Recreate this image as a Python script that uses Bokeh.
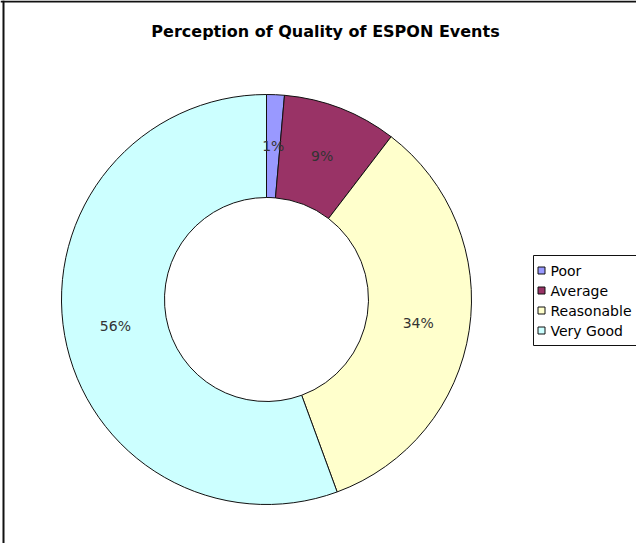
import math
from bokeh.plotting import figure
from bokeh.models import Range1d, Span, ColumnDataSource
from bokeh.core.properties import value
from bokeh.embed import file_html
from bokeh.resources import INLINE

# ---- data ----
title = "Perception of Quality of ESPON Events"
categories = ["Poor", "Average", "Reasonable", "Very Good"]
shares = [1.4, 9.0, 34.0, 55.6]
labels = ["1%", "9%", "34%", "56%"]
colors = ["#9999FF", "#993366", "#FFFFCC", "#CCFFFF"]

# ---- layout (page pixels) ----
W, H = 636, 543
def Y(py):
    return 551 - py

cx, cy = 274, Y(307)
r_in, r_out = 102, 205

p = figure(width=W, height=H, output_backend="svg", toolbar_location=None,
           x_range=Range1d(8, 8 + W), y_range=Range1d(0, H),
           min_border=0, tools="")
p.axis.visible = False
p.grid.visible = False
p.outline_line_color = None
p.background_fill_color = "white"
p.border_fill_color = "white"

total = sum(shares)
cum = [0.0]
for s in shares:
    cum.append(cum[-1] + s / total)
starts = [math.pi / 2 - 2 * math.pi * cum[i + 1] for i in range(len(shares))]
ends = [math.pi / 2 - 2 * math.pi * cum[i] for i in range(len(shares))]
mids = [math.pi / 2 - 2 * math.pi * (cum[i] + cum[i + 1]) / 2 for i in range(len(shares))]
r_mid = (r_in + r_out) / 2

src = ColumnDataSource(dict(cat=categories, start=starts, end=ends, color=colors,
                            lx=[cx + r_mid * math.cos(a) for a in mids],
                            ly=[cy + r_mid * math.sin(a) for a in mids],
                            label=labels))

p.annular_wedge(x=cx, y=cy, inner_radius=r_in, outer_radius=r_out,
                inner_radius_units="screen", outer_radius_units="screen",
                start_angle="start", end_angle="end", fill_color="color",
                line_color="#111111", line_width=1, source=src)

p.text(x="lx", y="ly", text="label", source=src, text_align="center",
       text_baseline="middle", text_font=value("DejaVu Sans"),
       text_font_size="14px", text_color="#333333")

# title
p.text(x=[333], y=[Y(39)], text=[title], text_align="center",
       text_baseline="alphabetic", text_font=value("DejaVu Sans"),
       text_font_size="16px", text_font_style="bold", text_color="#000000")

# legend (manual, Excel style)
lg_top, lg_left, row0, step = 263, 541, 278, 20
p.quad(left=[lg_left], right=[700], top=[Y(lg_top)], bottom=[Y(row0 + step * 3 + 15)],
       fill_color="white", line_color="#111111", line_width=1)
leg = ColumnDataSource(dict(x=[549] * 4, tx=[558] * 4,
                            y=[Y(row0 + step * i) for i in range(4)],
                            color=colors, cat=categories))
p.scatter(x="x", y="y", marker="square", size=7, fill_color="color",
          line_color="#111111", line_width=1, source=leg)
p.text(x="tx", y="y", text="cat", source=leg, text_align="left",
       text_baseline="middle", text_font=value("DejaVu Sans"),
       text_font_size="14px", text_color="#000000")

# chart-area border (left and top visible)
p.add_layout(Span(location=11, dimension="height", line_color="#111111", line_width=2))
p.add_layout(Span(location=Y(9), dimension="width", line_color="#111111", line_width=2))

open("out.html", "w").write(file_html(p, INLINE))
